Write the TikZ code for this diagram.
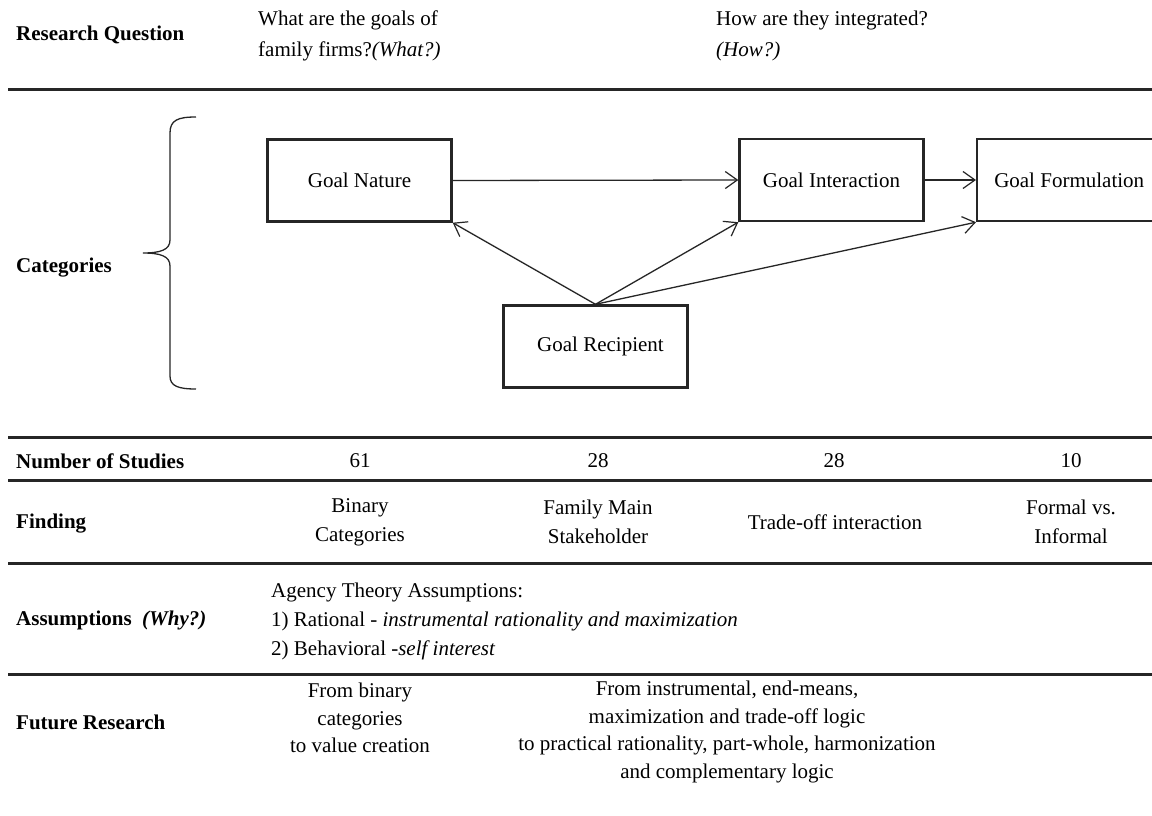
\documentclass[tikz,border=0pt]{standalone}
\usepackage{fontspec}
\setmainfont{Liberation Serif}
\usetikzlibrary{arrows.meta}
\begin{document}
\begin{tikzpicture}[x=1pt,y=-1pt,
  txt/.style={inner sep=0pt, font=\fontsize{21}{29}\selectfont},
  lbl/.style={inner sep=0pt, anchor=west, font=\fontsize{21}{29}\selectfont\bfseries},
  ctr/.style={txt, align=center, anchor=center},
  lft/.style={txt, align=left, anchor=west},
  box/.style={draw=black!85, line width=2.4pt, minimum width=184pt, minimum height=82pt, inner sep=0pt, font=\fontsize{21}{29}\selectfont},
  rule/.style={line width=3pt, draw=black!85},
  arr/.style={-{Straight Barb[length=12pt,width=17pt,line width=1.2pt]}, line width=1.3pt, draw=black!85},
  brace/.style={line width=1.3pt, draw=black!85},
]
\useasboundingbox[fill=white] (0,0) rectangle (1152,816);

% Research question row
\node[lbl] (rqlabel) at (16,35) {Research Question};
\node[lft, font=\fontsize{21}{31}\selectfont] (rqwhat) at (258,36) {What are the goals of\\family firms?\textit{(What?)}};
\node[lft, font=\fontsize{21}{31}\selectfont] (rqhow) at (716,36) {How are they integrated?\\\textit{(How?)}};
\draw[rule] (8,90) -- (1152,90);

% Categories
\node[lbl] (catlabel) at (16,268) {Categories};
\draw[brace] (196,117) .. controls (178,117) and (170,120) .. (170,133) -- (170,240)
  .. controls (170,250) and (160,253) .. (143,253)
  .. controls (160,253) and (170,256) .. (170,266) -- (170,376)
  .. controls (170,386) and (178,389) .. (196,389);

\node[box] (GN) at (359.5,180.5) {Goal Nature};
\node[box] (GI) at (831.5,180) {Goal Interaction};
\node[box, anchor=west] (GF) at (976,180) {Goal Formulation};
\node[box] (GR) at (595.5,346.5) {\hspace{10pt}Goal Recipient};

\draw[arr] (GN.east) -- (GI.west);
\draw[arr] (GI.east) -- (GF.west);
\draw[arr] (GR.north) -- (GN.south east);
\draw[arr] (GR.north) -- (GI.south west);
\draw[arr] (GR.north) -- (GF.south west);

\draw[rule] (8,437) -- (1152,437);

% Number of studies
\node[lbl] (nslabel) at (16,461) {Number of Studies};
\node[ctr] (n1) at (360,461) {61};
\node[ctr] (n2) at (598,461) {28};
\node[ctr] (n3) at (834,461) {28};
\node[ctr] (n4) at (1071,461) {10};
\draw[rule] (8,480) -- (1152,480);

% Finding
\node[lbl] (fdlabel) at (16,524) {Finding};
\node[ctr] (f1) at (360,522) {Binary\\Categories};
\node[ctr] (f2) at (598,522) {Family Main\\Stakeholder};
\node[ctr] (f3) at (835,522) {Trade-off interaction};
\node[ctr] (f4) at (1071,522) {Formal vs.\\Informal};
\draw[rule] (8,563) -- (1152,563);

% Assumptions
\node[lbl] (aslabel) at (16,620) {Assumptions\hspace{0.5em}\textit{(Why?)}};
\node[lft] (astext) at (271,621) {Agency Theory Assumptions:\\1) Rational - \textit{instrumental rationality and maximization}\\2) Behavioral -\textit{self interest}};
\draw[rule] (8,674) -- (1152,674);

% Future research
\node[lbl] (frlabel) at (16,722) {Future Research};
\node[ctr, font=\fontsize{21}{27.5}\selectfont] (fr1) at (360,718) {From binary\\categories\\to value creation};
\node[ctr, font=\fontsize{21}{27.5}\selectfont] (fr2) at (727,732) {From instrumental, end-means,\\maximization and trade-off logic\\to practical rationality, part-whole, harmonization\\and complementary logic};
\end{tikzpicture}
\end{document}
